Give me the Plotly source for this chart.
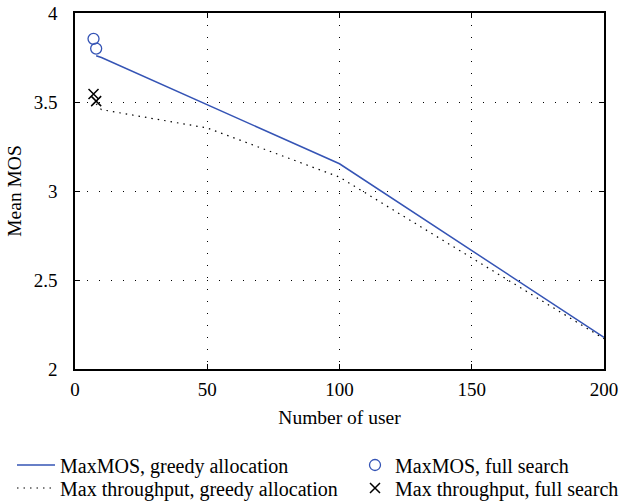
import plotly.graph_objects as go

# Data
users_greedy = [8, 10, 100, 200]
mos_maxmos_greedy = [3.76, 3.75, 3.153, 2.178]

users_tp_greedy = [8, 10, 50, 100, 200]
mos_tp_greedy = [3.49, 3.457, 3.354, 3.078, 2.17]

users_full = [7, 8]
mos_maxmos_full = [3.855, 3.80]
mos_tp_full = [3.545, 3.505]

x_ticks = [0, 50, 100, 150, 200]
y_ticks = [2, 2.5, 3, 3.5, 4]
y_tick_text = ["2", "2.5", "3", "3.5", "4"]

FONT = "Liberation Serif"
BLUE = "#3554b5"
TICK_SIZE = 19
TITLE_SIZE = 19.5
LEG_SIZE = 20

fig = go.Figure()
fig.add_trace(go.Scatter(
    x=users_greedy, y=mos_maxmos_greedy, mode="lines",
    name="MaxMOS, greedy allocation", legend="legend",
    line=dict(color=BLUE, width=1.5)))
fig.add_trace(go.Scatter(
    x=users_full, y=mos_maxmos_full, mode="markers",
    name="MaxMOS, full search", legend="legend2",
    marker=dict(symbol="circle-open", size=11, color=BLUE, line=dict(width=1.3))))
fig.add_trace(go.Scatter(
    x=users_tp_greedy, y=mos_tp_greedy, mode="lines",
    name="Max throughput, greedy allocation", legend="legend3",
    line=dict(color="black", width=1.2, dash="1.5px,5px")))
fig.add_trace(go.Scatter(
    x=users_full, y=mos_tp_full, mode="markers",
    name="Max throughput, full search", legend="legend4",
    marker=dict(symbol="x-thin-open", size=10, color="black", line=dict(width=1.5, color="black"))))

axis_common = dict(
    showline=True, linecolor="black", linewidth=1.5, mirror="allticks",
    ticks="inside", ticklen=5, tickcolor="black", tickwidth=1,
    showgrid=True, gridcolor="black", gridwidth=1, griddash="1px,11px",
    zeroline=False, tickfont=dict(family=FONT, size=TICK_SIZE, color="black"),
)

fig.update_xaxes(range=[0, 200], tickvals=x_ticks, ticktext=[str(v) for v in x_ticks],
                 title=dict(text="Number of user", font=dict(family=FONT, size=TITLE_SIZE, color="black"), standoff=12),
                 ticklabelstandoff=2,
                 **axis_common)
fig.update_yaxes(range=[2, 4], tickvals=y_ticks, ticktext=y_tick_text,
                 title=dict(text="Mean MOS", font=dict(family=FONT, size=TITLE_SIZE, color="black"), standoff=7),
                 ticklabelstandoff=12,
                 **axis_common)

PLOT_TOP, PLOT_BOTTOM = 13, 369
PH = PLOT_BOTTOM - PLOT_TOP


def leg(x_px, y_px, itemwidth):
    return dict(x=(x_px - 75) / 529, xanchor="left", y=-(y_px - PLOT_BOTTOM) / PH, yanchor="middle",
                orientation="v", font=dict(family=FONT, size=LEG_SIZE, color="black"),
                bgcolor="rgba(0,0,0,0)", borderwidth=0, itemwidth=itemwidth)


fig.update_layout(
    width=619, height=503,
    margin=dict(l=75, r=15, t=PLOT_TOP, b=503 - PLOT_BOTTOM, pad=0, autoexpand=False),
    paper_bgcolor="white", plot_bgcolor="white",
    font=dict(family=FONT, size=TICK_SIZE, color="black"),
    showlegend=True,
    legend=leg(12, 465, 38),
    legend2=leg(355, 465, 30),
    legend3=leg(12, 488, 38),
    legend4=leg(355, 488, 30),
)
fig.write_html("out.html")
